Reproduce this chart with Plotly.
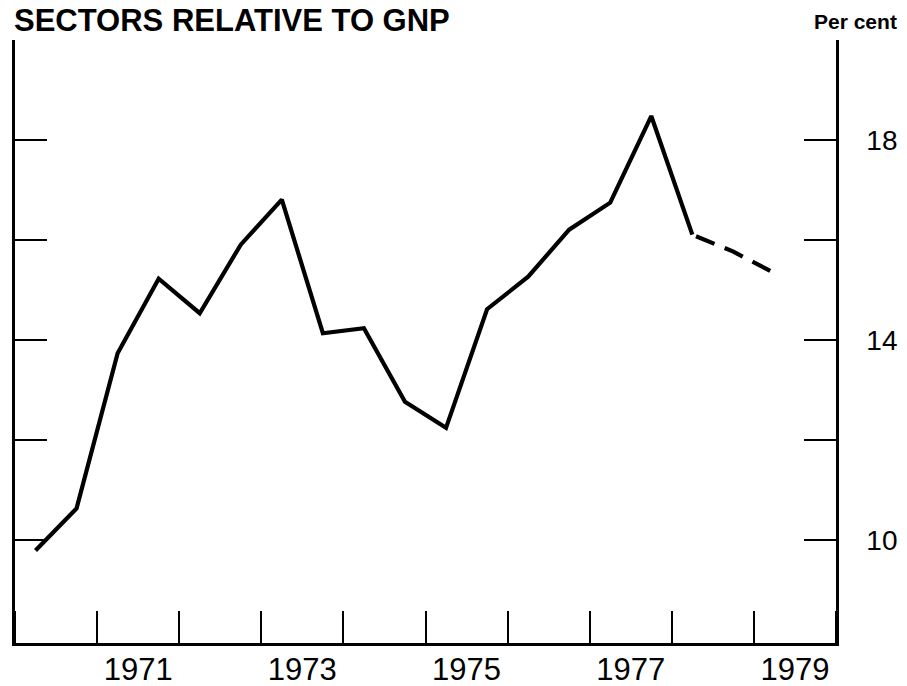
import plotly.graph_objects as go

# Half-year observation points (mid of each half-year)
periods = [1970.25, 1970.75, 1971.25, 1971.75, 1972.25, 1972.75, 1973.25, 1973.75,
           1974.25, 1974.75, 1975.25, 1975.75, 1976.25, 1976.75, 1977.25, 1977.75,
           1978.25, 1978.75, 1979.25]
values = [9.80, 10.64, 13.74, 15.23, 14.54, 15.91, 16.81, 14.14,
          14.24, 12.77, 12.25, 14.62, 15.27, 16.21, 16.75, 18.48,
          16.11, 15.77, 15.34]
n_actual = 17  # points up to 1978.25 are actual; the rest are projections (dashed)

year_ticks = [1970, 1971, 1972, 1973, 1974, 1975, 1976, 1977, 1978, 1979, 1980]
label_pos = [1971.5, 1973.5, 1975.5, 1977.5, 1979.5]
label_text = ["1971", "1973", "1975", "1977", "1979"]
y_ticks = [10, 12, 14, 16, 18, 20]
y_text = ["10", "", "14", "", "18", ""]

FONT = "Liberation Sans, Arial, Helvetica, sans-serif"

fig = go.Figure()
fig.add_trace(go.Scatter(
    x=periods[:n_actual], y=values[:n_actual], mode="lines",
    line=dict(color="black", width=4.2), showlegend=False, hoverinfo="skip"))
fig.add_trace(go.Scatter(
    x=periods[n_actual - 1:], y=values[n_actual - 1:], mode="lines",
    line=dict(color="black", width=4.2, dash="0px,4px,20px,7px"),
    showlegend=False, hoverinfo="skip"))

fig.update_layout(
    width=907, height=686,
    margin=dict(l=15, r=71, t=40, b=43),
    paper_bgcolor="white", plot_bgcolor="white",
    font=dict(family=FONT, color="black"),
    title=dict(text="<b>SECTORS RELATIVE TO GNP</b>", font=dict(size=31, family=FONT, color="black"),
               x=14 / 907, xanchor="left", xref="container",
               y=1 - 9 / 686, yanchor="top", yref="container"),
    xaxis=dict(range=[1970, 1980], showgrid=False, zeroline=False, automargin=False,
               showline=True, linecolor="black", linewidth=2.5,
               tickmode="array", tickvals=label_pos, ticktext=label_text,
               ticks="", tickfont=dict(size=31, family=FONT, color="black"),
               ticklabelstandoff=-3,
               minor=dict(tickmode="array", tickvals=year_ticks, ticks="inside",
                          ticklen=32, tickwidth=2, tickcolor="black", showgrid=False)),
    yaxis=dict(range=[7.95, 20.0], side="right", showgrid=False, zeroline=False, automargin=False,
               showline=True, linecolor="black", linewidth=2.5, mirror="ticks",
               tickmode="array", tickvals=y_ticks, ticktext=y_text,
               ticks="inside", ticklen=32, tickwidth=2, tickcolor="black",
               tickfont=dict(size=28, family=FONT, color="black"),
               ticklabelstandoff=22),
    annotations=[dict(text="<b>Per cent</b>", x=(899 - 15) / 821, xref="paper", xanchor="right",
                      y=1 + (40 - 21) / 603, yref="paper", yanchor="middle",
                      showarrow=False, font=dict(size=21, family=FONT, color="black"))],
)

fig.write_html("out.html", config={"displayModeBar": False},
               post_script="document.body.style.margin='0';")
